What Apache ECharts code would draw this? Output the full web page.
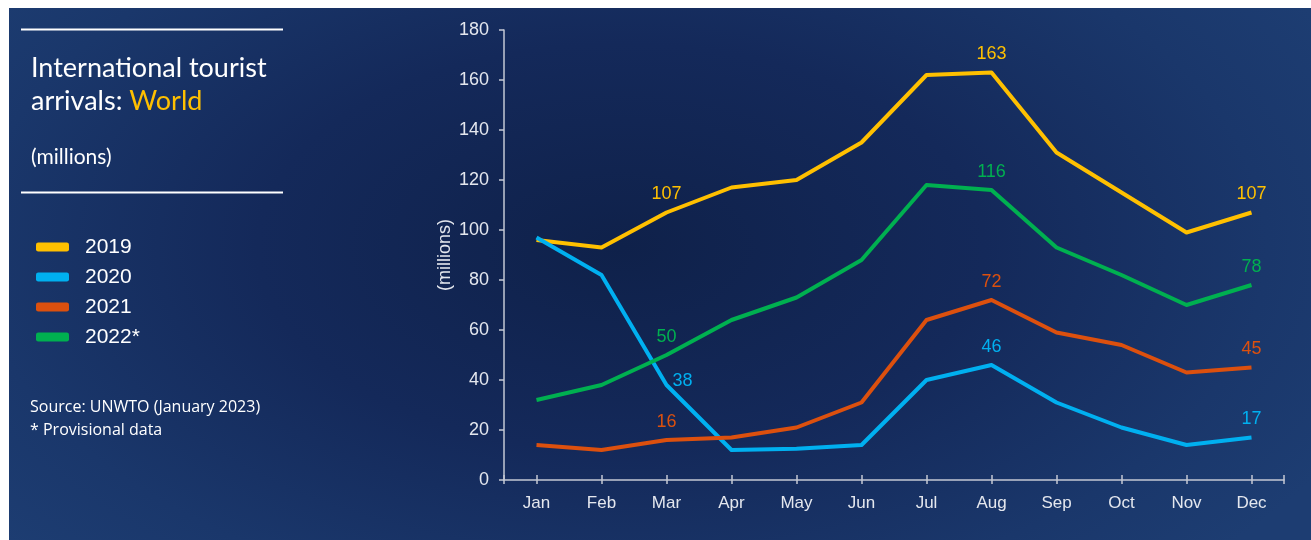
<!DOCTYPE html>
<html>
<head>
<meta charset="utf-8">
<script src="https://cdn.jsdelivr.net/npm/echarts@6/dist/echarts.min.js"></script>
<style>
  html, body { margin: 0; padding: 0; background: #ffffff; }
  #bg {
    position: absolute; left: 9px; top: 8px; width: 1302px; height: 532px;
    background: radial-gradient(ellipse 62% 85% at 47% 45%, #0f214a 0%, #14295a 45%, #1a376b 80%, #1d3d72 100%);
  }
  #chart { position: absolute; left: 0; top: 0; width: 1311px; height: 540px; }
</style>
</head>
<body>
<div id="bg"></div>
<div id="chart"></div>
<script>
// Monthly international tourist arrivals, world (millions)
const months = ['Jan', 'Feb', 'Mar', 'Apr', 'May', 'Jun', 'Jul', 'Aug', 'Sep', 'Oct', 'Nov', 'Dec'];
const years = ['2019', '2020', '2021', '2022*'];
const arrivals2019 = [96, 93, 107, 117, 120, 135, 162, 163, 131, 115, 99, 107];
const arrivals2020 = [97, 82, 38, 12, 12.5, 14, 40, 46, 31, 21, 14, 17];
const arrivals2021 = [14, 12, 16, 17, 21, 31, 64, 72, 59, 54, 43, 45];
const arrivals2022 = [32, 38, 50, 64, 73, 88, 118, 116, 93, 82, 70, 78];
const yTicks = { min: 0, max: 180, step: 20 };
// months whose values are written on the lines
const labelledMonths = ['Mar', 'Aug', 'Dec'];

const colors = ['#FFC000', '#00B0F0', '#DC500E', '#00B050'];
const seriesValues = [arrivals2019, arrivals2020, arrivals2021, arrivals2022];

function buildData(values, seriesIdx) {
  return values.map(function (v, i) {
    if (labelledMonths.indexOf(months[i]) < 0) return v;
    const item = { value: v, label: { show: true } };
    // the 2020 March value sits to the right of its point
    if (seriesIdx === 1 && months[i] === 'Mar') {
      item.label.position = 'right';
      item.label.distance = 6;
      item.label.offset = [0, -4];
    }
    return item;
  });
}

const series = years.map(function (name, k) {
  return {
    name: name,
    type: 'line',
    data: buildData(seriesValues[k], k),
    symbol: 'circle',
    symbolSize: 0.1,
    showSymbol: true,
    itemStyle: { color: colors[k] },
    lineStyle: { color: colors[k], width: 4, join: 'round' },
    label: {
      show: false,
      position: 'top',
      distance: 9,
      color: colors[k],
      fontSize: 18,
      fontFamily: 'Liberation Sans, Arial, sans-serif'
    },
    emphasis: { disabled: true },
    z: 3 + k
  };
});

const axisColor = '#c3c8d4';
const labelColor = '#e4e7ee';
const panelFont = 'Lato, Open Sans, sans-serif';

const chart = echarts.init(document.getElementById('chart'), null, { renderer: 'canvas' });
chart.setOption({
  animation: false,
  backgroundColor: 'transparent',
  title: [
    {
      text: 'International tourist\narrivals: {w|World}',
      left: 31,
      top: 52,
      padding: 0,
      textStyle: {
        color: '#ffffff',
        fontSize: 27,
        fontWeight: 'normal',
        fontFamily: panelFont,
        lineHeight: 33,
        rich: {
          w: { color: '#FFC000', fontSize: 27, fontWeight: 'normal', fontFamily: panelFont, lineHeight: 33 }
        }
      }
    },
    {
      text: '(millions)',
      left: 31,
      top: 147,
      padding: 0,
      textStyle: { color: '#ffffff', fontSize: 21, fontWeight: 'normal', fontFamily: panelFont }
    },
    {
      text: 'Source: UNWTO (January 2023)\n* Provisional data',
      left: 30,
      top: 396,
      padding: 0,
      textStyle: { color: '#ffffff', fontSize: 16, fontWeight: 'normal', fontFamily: 'Open Sans, sans-serif', lineHeight: 23 }
    }
  ],
  graphic: [
    { type: 'line', shape: { x1: 21, y1: 29.5, x2: 283, y2: 29.5 }, style: { stroke: '#ffffff', lineWidth: 2 } },
    { type: 'line', shape: { x1: 21, y1: 192.5, x2: 283, y2: 192.5 }, style: { stroke: '#ffffff', lineWidth: 2 } }
  ],
  legend: {
    orient: 'vertical',
    left: 36,
    top: 235,
    padding: 0,
    itemWidth: 33,
    itemHeight: 9,
    itemGap: 6,
    icon: 'roundRect',
    selectedMode: false,
    data: years,
    textStyle: {
      color: '#ffffff',
      fontSize: 21,
      lineHeight: 24,
      fontFamily: 'Liberation Sans, Arial, sans-serif',
      padding: [0, 0, 0, 11]
    }
  },
  grid: { left: 504, top: 30, width: 780, height: 450 },
  xAxis: [
    {
      type: 'category',
      data: months,
      boundaryGap: true,
      axisLine: { show: true, lineStyle: { color: axisColor, width: 1.5 } },
      axisTick: { show: false },
      axisLabel: { color: labelColor, fontSize: 17, margin: 15, fontFamily: 'Liberation Sans, Arial, sans-serif' },
      splitLine: { show: false }
    },
    {
      // crossing tick marks under each month
      type: 'category',
      data: months,
      position: 'bottom',
      offset: -5,
      boundaryGap: true,
      axisLine: { show: false },
      axisTick: { show: true, alignWithLabel: true, length: 9, lineStyle: { color: axisColor, width: 1.5 } },
      axisLabel: { show: false },
      splitLine: { show: false }
    },
    {
      // closing tick at the right end of the axis
      type: 'category',
      data: months,
      position: 'bottom',
      offset: -5,
      boundaryGap: true,
      axisLine: { show: false },
      axisTick: {
        show: true, alignWithLabel: false, length: 9,
        interval: function (idx) { return idx === months.length - 1; },
        lineStyle: { color: axisColor, width: 1.5 }
      },
      axisLabel: { show: false },
      splitLine: { show: false }
    }
  ],
  yAxis: {
    type: 'value',
    min: yTicks.min,
    max: yTicks.max,
    interval: yTicks.step,
    name: '(millions)',
    nameLocation: 'middle',
    nameGap: 50,
    nameMoveOverlap: false,
    nameTextStyle: { color: labelColor, fontSize: 18, fontFamily: 'Liberation Sans, Arial, sans-serif' },
    axisLine: { show: true, lineStyle: { color: axisColor, width: 1.5 } },
    axisTick: { show: true, length: 5, lineStyle: { color: axisColor, width: 1.5 } },
    axisLabel: { color: labelColor, fontSize: 18, margin: 15, fontFamily: 'Liberation Sans, Arial, sans-serif' },
    splitLine: { show: false }
  },
  series: series
});
</script>
</body>
</html>
